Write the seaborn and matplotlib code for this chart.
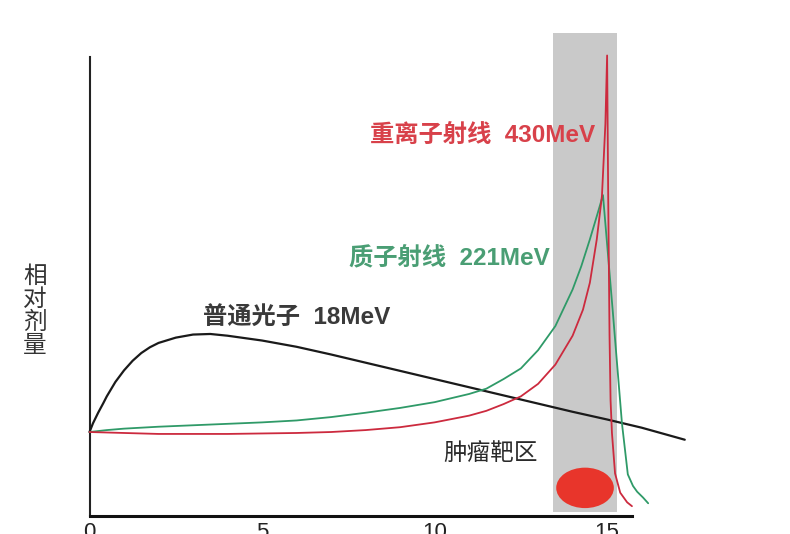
import numpy as np
import pandas as pd
import seaborn as sns
import matplotlib.pyplot as plt
from matplotlib.patches import Ellipse

# depth (cm) vs relative dose
photon_x = [0, 0.1, 0.25, 0.4, 0.5, 0.75, 1.0, 1.25, 1.5, 1.75, 2.0, 2.5, 3.0, 3.5, 4.0,
            5.0, 6.0, 7.0, 8.0, 9.0, 10.0, 11.0, 12.0, 13.0, 14.0, 15.0, 16.0, 17.25]
photon_y = [0, 0.09, 0.2, 0.3, 0.37, 0.52, 0.64, 0.74, 0.82, 0.88, 0.925, 0.98, 1.012,
            1.018, 1.0, 0.95, 0.885, 0.805, 0.72, 0.635, 0.55, 0.465, 0.38, 0.295, 0.21,
            0.13, 0.045, -0.08]

proton_x = [0, 0.5, 1, 2, 3, 4, 5, 6, 7, 8, 9, 10, 11, 11.5, 12, 12.5, 13, 13.5, 14,
            14.25, 14.5, 14.7, 14.88, 15.16, 15.43, 15.52, 15.6, 15.75, 15.87, 16.04, 16.19]
proton_y = [0, 0.02, 0.035, 0.055, 0.07, 0.085, 0.1, 0.12, 0.155, 0.2, 0.25, 0.31, 0.395,
            0.45, 0.55, 0.66, 0.85, 1.1, 1.48, 1.72, 2.0, 2.24, 2.46, 1.27, 0.09, -0.19,
            -0.44, -0.56, -0.62, -0.68, -0.74]

ion_x = [0, 1, 2, 3, 4, 5, 6, 7, 8, 9, 10, 11, 11.5, 12, 12.5, 13, 13.5, 14, 14.3, 14.5,
         14.7, 14.85, 14.95, 15.0, 15.03, 15.07, 15.1, 15.14, 15.23, 15.38, 15.58, 15.72]
ion_y = [0, -0.01, -0.02, -0.02, -0.02, -0.015, -0.01, 0.0, 0.02, 0.05, 0.1, 0.17, 0.22,
         0.29, 0.37, 0.5, 0.7, 1.0, 1.27, 1.55, 2.0, 2.45, 3.2, 3.91, 2.5, 1.0, 0.33,
         -0.01, -0.43, -0.63, -0.73, -0.77]

x_ticks = [0, 5, 10, 15]
y_ticks = [0, 1, 2, 3]
target_zone = (13.43, 15.29)
tumor_center = (14.36, -0.58)
tumor_size = (1.67, 0.42)

sns.set_style("white")
plt.rcParams['font.family'] = ['Noto Sans CJK SC', 'DejaVu Sans']
label_font = ['Liberation Sans', 'Noto Sans CJK SC']

fig = plt.figure(figsize=(7.9, 5.34), dpi=100)
ax = fig.add_axes([0, 0, 1, 1])
xlim = (-2.594, 20.30)
ylim = (-1.059, 4.486)
ax.set_xlim(*xlim)
ax.set_ylim(*ylim)

frac = lambda v: (v - ylim[0]) / (ylim[1] - ylim[0])
ax.axvspan(target_zone[0], target_zone[1], ymin=frac(-0.83), ymax=frac(4.14),
           color='#c9c9c9', lw=0, zorder=0)
ax.add_patch(Ellipse(tumor_center, tumor_size[0], tumor_size[1], color='#e8352b',
                     zorder=1, lw=0))

sns.lineplot(x=photon_x, y=photon_y, ax=ax, color='#1a1a1a', lw=1.6,
             estimator=None, sort=False, zorder=3)
sns.lineplot(x=proton_x, y=proton_y, ax=ax, color='#2f9a68', lw=1.3,
             estimator=None, sort=False, zorder=3)
sns.lineplot(x=ion_x, y=ion_y, ax=ax, color='#cc2a3e', lw=1.3,
             estimator=None, sort=False, zorder=4)

for s in ['top', 'right']:
    ax.spines[s].set_visible(False)
ax.spines['left'].set_position(('data', 0))
ax.spines['left'].set_bounds(-0.872, 3.894)
ax.spines['left'].set_linewidth(1.5)
ax.spines['left'].set_color('#222222')
ax.spines['bottom'].set_position(('data', -0.872))
ax.spines['bottom'].set_bounds(0, 15.72)
ax.spines['bottom'].set_linewidth(2.2)
ax.spines['bottom'].set_color('#111111')
ax.spines['bottom'].set_zorder(5)

ax.set_yticks(y_ticks)
ax.set_yticklabels([])
ax.tick_params(axis='y', direction='out', length=5, width=2, color='#222222')
ax.set_xticks(x_ticks)
ax.set_xticklabels([str(t) for t in x_ticks], fontsize=16, family='Liberation Sans',
                   color='#222222')
ax.tick_params(axis='x', direction='in', length=9, width=2, pad=4, color='#222222')

ax.text(11.38, 3.08, '重离子射线  430MeV', color='#d8414a', fontsize=17.5,
        family=label_font, weight='bold', ha='center', va='center')
ax.text(10.42, 1.80, '质子射线  221MeV', color='#4a9e74', fontsize=17.5,
        family=label_font, weight='bold', ha='center', va='center')
ax.text(5.99, 1.19, '普通光子  18MeV', color='#3a3a3a', fontsize=17.5,
        family=label_font, weight='bold', ha='center', va='center')
ax.text(11.61, -0.22, '肿瘤靶区', color='#2a2a2a', fontsize=17,
        ha='center', va='center')
ax.text(-1.58, 1.26, '\n'.join('相对剂量'), color='#333333', fontsize=17,
        ha='center', va='center', linespacing=1.0)

fig.savefig('out.png', dpi=100)
